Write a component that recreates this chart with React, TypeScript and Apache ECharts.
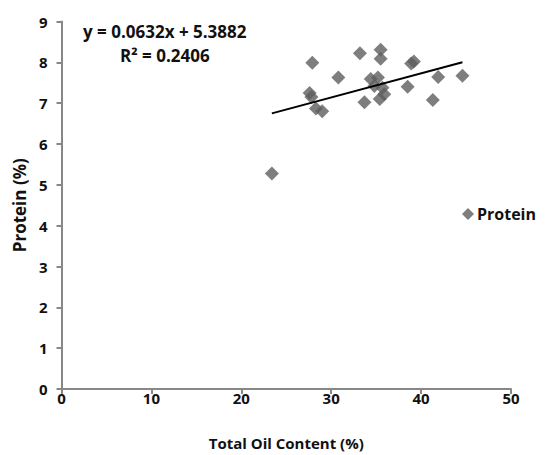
import React, { useEffect, useRef } from "react";
import * as echarts from "echarts";

const oilContent = [23.4, 27.9, 33.2, 35.5, 35.5, 30.8, 27.6, 27.8, 28.3, 29.0, 33.7, 34.4, 35.2, 34.8, 35.7, 35.9, 35.4, 38.9, 39.2, 41.9, 44.6, 38.5, 41.3];
const protein = [5.28, 7.99, 8.22, 8.31, 8.09, 7.63, 7.25, 7.15, 6.87, 6.80, 7.02, 7.59, 7.63, 7.42, 7.38, 7.22, 7.10, 7.97, 8.02, 7.64, 7.67, 7.40, 7.08];
const trendX = [23.4, 44.6];
const trendY = [6.75, 8.0];
const equationText = "y = 0.0632x + 5.3882";
const r2Text = "R² = 0.2406";
const xTitle = "Total Oil Content (%)";
const yTitle = "Protein (%)";
const seriesName = "Protein";

const FONT = "'Open Sans', sans-serif";

export default function App() {
  const ref = useRef<HTMLDivElement>(null);
  useEffect(() => {
    if (!ref.current) return;
    const chart = echarts.init(ref.current, undefined, { renderer: "svg" });
    const axisLine = { show: true, lineStyle: { color: "#878787", width: 2 } };
    const axisTick = { show: true, length: 5, inside: false, lineStyle: { color: "#878787", width: 2 } };
    const labelStyle = { color: "#111", fontSize: 15, fontWeight: "bold" as const, fontFamily: FONT };
    chart.setOption({
      animation: false,
      backgroundColor: "#fff",
      grid: { left: 61.5, right: 41, top: 21.5, bottom: 62.5, containLabel: false },
      xAxis: {
        type: "value",
        min: 0,
        max: 50,
        interval: 10,
        axisLine,
        axisTick,
        splitLine: { show: false },
        axisLabel: { ...labelStyle, margin: 1 },
        name: xTitle,
        nameLocation: "middle",
        nameGap: 46,
        nameTextStyle: { ...labelStyle, fontSize: 15 },
      },
      yAxis: {
        type: "value",
        min: 0,
        max: 9,
        interval: 1,
        axisLine,
        axisTick,
        splitLine: { show: false },
        axisLabel: { ...labelStyle, margin: 14 },
        name: yTitle,
        nameLocation: "middle",
        nameGap: 31,
        nameTextStyle: { ...labelStyle, fontSize: 17 },
      },
      legend: {
        data: [{ name: seriesName, icon: "diamond" }],
        left: 457,
        top: 201,
        itemWidth: 12,
        itemHeight: 12,
        itemGap: 4,
        textStyle: { ...labelStyle, fontSize: 16, padding: [0, 0, 0, -2] },
      },
      graphic: [
        {
          type: "text",
          left: 83,
          top: 23,
          style: { text: equationText, fill: "#111", font: `bold 17px ${FONT}` },
        },
        {
          type: "text",
          left: 120,
          top: 47,
          style: { text: r2Text, fill: "#111", font: `bold 17px ${FONT}` },
        },
      ],
      series: [
        {
          name: seriesName,
          type: "scatter",
          symbol: "diamond",
          symbolSize: 14,
          itemStyle: { color: "#5e5e5e" },
          data: oilContent.map((x, i) => [x, protein[i]]),
          z: 2,
        },
        {
          name: "trend",
          type: "line",
          data: trendX.map((x, i) => [x, trendY[i]]),
          symbol: "none",
          lineStyle: { color: "#000", width: 2 },
          z: 3,
        },
      ],
    });
    return () => chart.dispose();
  }, []);
  return <div ref={ref} style={{ width: 552, height: 455, position: "absolute", left: 0, top: 0 }} />;
}
